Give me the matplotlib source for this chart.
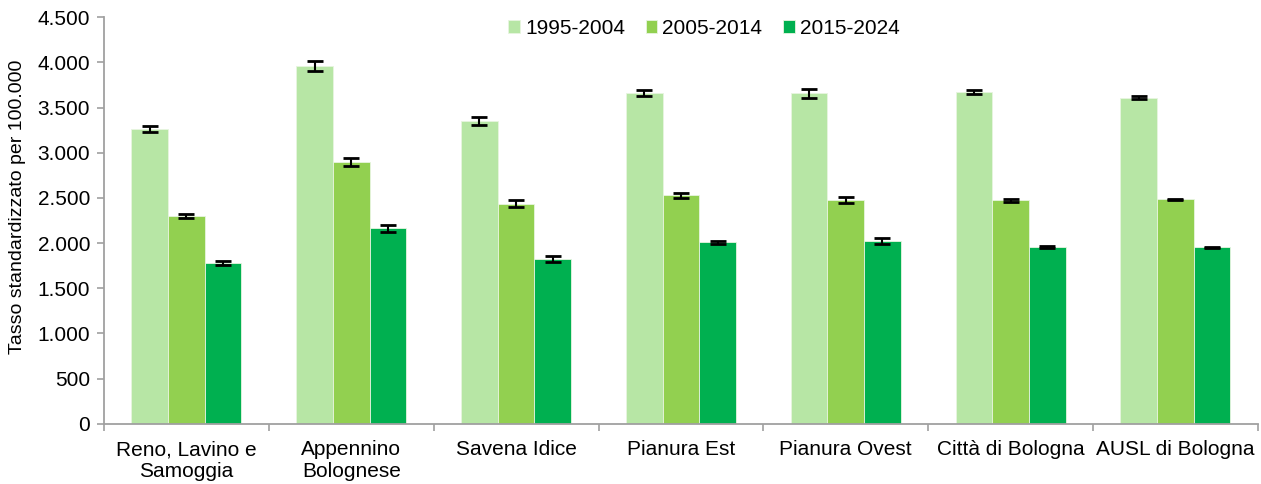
import matplotlib
matplotlib.use("Agg")
import matplotlib.pyplot as plt
import numpy as np
from matplotlib.ticker import FuncFormatter

plt.rcParams['font.family'] = ['Liberation Sans', 'DejaVu Sans']

categories = ["Reno, Lavino e\nSamoggia", "Appennino\nBolognese", "Savena Idice",
              "Pianura Est", "Pianura Ovest", "Città di Bologna", "AUSL di Bologna"]
series_names = ["1995-2004", "2005-2014", "2015-2024"]
v1995 = [3265, 3960, 3350, 3658, 3658, 3676, 3610]
v2005 = [2300, 2896, 2437, 2530, 2475, 2472, 2483]
v2015 = [1780, 2165, 1827, 2008, 2020, 1958, 1951]
e1995 = [32, 52, 45, 33, 47, 22, 16]
e2005 = [26, 45, 38, 27, 34, 18, 10]
e2015 = [22, 38, 32, 20, 32, 14, 8]
colors = ["#B7E6A5", "#92D050", "#00B050"]
yticks = [0, 500, 1000, 1500, 2000, 2500, 3000, 3500, 4000, 4500]

fig = plt.figure(figsize=(12.61, 4.84), dpi=100)
ax = fig.add_axes([0.0825, 0.1246, 0.915, 0.8397])

x = np.arange(len(categories))
w = 0.2225
vals = [v1995, v2005, v2015]
errs = [e1995, e2005, e2015]
for i in range(3):
    ax.bar(x + (i - 1) * w, vals[i], w, color=colors[i], edgecolor="#E8F5E0",
           linewidth=0.6, label=series_names[i], zorder=2)
    ax.errorbar(x + (i - 1) * w, vals[i], yerr=errs[i], fmt="none", ecolor="black",
                elinewidth=1.5, capsize=6, capthick=2, zorder=3)

fs = 15
ax.set_xlim(-0.5, len(categories) - 0.5)
ax.set_ylim(0, 4500)
ax.set_yticks(yticks)
ax.yaxis.set_major_formatter(FuncFormatter(lambda v, p: f"{int(v):,}".replace(",", ".")))
ax.set_xticks(x)
ax.set_xticklabels(categories, fontsize=fs, linespacing=1.2)
ax.set_xticks(np.arange(-0.5, len(categories) + 0.5, 1), minor=True)
ax.tick_params(axis="x", which="major", length=0, pad=12)
ax.tick_params(axis="x", which="minor", length=5, color="#A0A0A0", width=1.2)
ax.tick_params(axis="y", length=5, color="#A0A0A0", width=1.2, labelsize=fs, pad=5)
for s in ["top", "right"]:
    ax.spines[s].set_visible(False)
for s in ["left", "bottom"]:
    ax.spines[s].set_color("#A0A0A0")
    ax.spines[s].set_linewidth(1.3)
ax.set_ylabel("Tasso standardizzato per 100.000", fontsize=14)
ax.yaxis.set_label_coords(-0.068, 0.534)

ax.legend(loc="center", bbox_to_anchor=(0.520, 0.973), ncol=3, frameon=False,
          fontsize=fs, handlelength=0.55, handleheight=0.55, handletextpad=0.25,
          columnspacing=1.0, borderpad=0)

fig.savefig("out.png", dpi=100)
